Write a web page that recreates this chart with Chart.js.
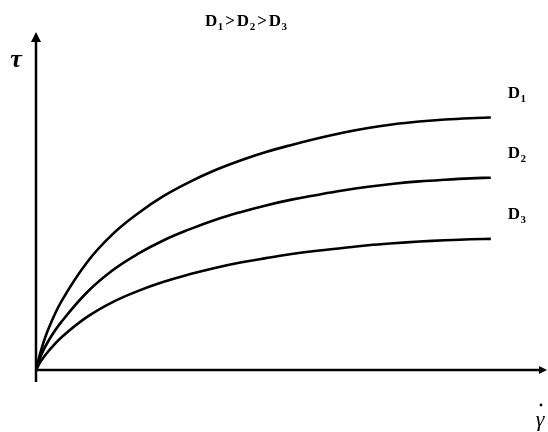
<!DOCTYPE html>
<html>
<head>
<meta charset="utf-8">
<script src="https://cdn.jsdelivr.net/npm/chart.js@4"></script>
<style>
  html, body { margin:0; padding:0; background:#fff; }
  canvas { display:block; }
</style>
</head>
<body>
<canvas id="flowChart" width="548" height="432"></canvas>
<script>
// shear rate (arbitrary units) and shear stress for three values of D
const shearRate = [0, 1, 2.5, 5, 10, 15, 20, 25, 30, 35, 40, 45, 50, 55, 60, 65, 70, 75, 80, 85, 89];
const stressD1 = [0, 5.9, 12.4, 20.4, 31.9, 40.2, 46.4, 51.5, 55.6, 59.1, 62.0, 64.5, 66.6, 68.5, 70.2, 71.6, 72.7, 73.5, 74.1, 74.5, 74.7];
const stressD2 = [0, 4.4, 8.8, 14.3, 23.0, 29.5, 34.4, 38.4, 41.6, 44.4, 46.7, 48.7, 50.4, 51.8, 53.1, 54.2, 55.1, 55.8, 56.3, 56.7, 56.9];
const stressD3 = [0, 2.7, 5.7, 9.7, 15.7, 20.1, 23.4, 26.1, 28.3, 30.2, 31.8, 33.1, 34.3, 35.3, 36.1, 36.9, 37.5, 38.0, 38.4, 38.7, 38.8];
const curveNames = ['1', '2', '3'];

const SERIF = '"Liberation Serif", "Times New Roman", serif';

function toPoints(ys){
  return shearRate.map((x, i) => ({x: x, y: ys[i]}));
}

// draws "D" followed by a subscript digit, returns the end x
function drawD(ctx, x, y, sub){
  ctx.font = 'bold 17px ' + SERIF;
  ctx.fillText('D', x, y);
  x += ctx.measureText('D').width + 0.5;
  ctx.font = 'bold 11px ' + SERIF;
  ctx.fillText(sub, x, y + 4);
  return x + ctx.measureText(sub).width;
}

function widthD(ctx, sub){
  ctx.font = 'bold 17px ' + SERIF;
  let w = ctx.measureText('D').width + 0.5;
  ctx.font = 'bold 11px ' + SERIF;
  return w + ctx.measureText(sub).width;
}

const sketchAxes = {
  id: 'sketchAxes',
  beforeDatasetsDraw(chart){
    const ctx = chart.ctx;
    const xs = chart.scales.x, ys = chart.scales.y;
    const x0 = xs.getPixelForValue(0);
    const y0 = ys.getPixelForValue(0);
    const top = chart.chartArea.top;
    const right = chart.chartArea.right;
    ctx.save();
    ctx.strokeStyle = '#000';
    ctx.fillStyle = '#000';
    ctx.lineWidth = 2.5;
    // vertical axis, a little past the origin
    ctx.beginPath();
    ctx.moveTo(x0, y0 + 12);
    ctx.lineTo(x0, top + 6);
    ctx.stroke();
    ctx.beginPath();
    ctx.moveTo(x0, top);
    ctx.lineTo(x0 - 5, top + 10);
    ctx.lineTo(x0 + 5, top + 10);
    ctx.closePath();
    ctx.fill();
    // horizontal axis
    ctx.beginPath();
    ctx.moveTo(x0, y0);
    ctx.lineTo(right - 5, y0);
    ctx.stroke();
    ctx.beginPath();
    ctx.moveTo(right, y0);
    ctx.lineTo(right - 8, y0 - 4);
    ctx.lineTo(right - 8, y0 + 4);
    ctx.closePath();
    ctx.fill();
    ctx.restore();
  },
  afterDraw(chart){
    const ctx = chart.ctx;
    ctx.save();
    ctx.fillStyle = '#000';
    ctx.textBaseline = 'alphabetic';

    // axis symbols
    ctx.textAlign = 'center';
    ctx.font = 'bold italic 26px ' + SERIF;
    ctx.fillText('\u03C4', 16, 67);
    ctx.font = 'italic 22px ' + SERIF;
    ctx.fillText('\u03B3', 540, 426);
    ctx.beginPath();
    ctx.arc(541, 405, 1.4, 0, Math.PI * 2);
    ctx.fill();

    // ordering note on top
    ctx.textAlign = 'left';
    const gt = ctx => { ctx.font = 'bold 17px ' + SERIF; return ctx.measureText('>').width; };
    const gap = 2;
    let total = widthD(ctx, '1') + widthD(ctx, '2') + widthD(ctx, '3') + 2 * gt(ctx) + 4 * gap;
    let x = 246 - total / 2;
    const yTitle = 26;
    x = drawD(ctx, x, yTitle, '1') + gap;
    ctx.font = 'bold 17px ' + SERIF;
    ctx.fillText('>', x, yTitle);
    x += gt(ctx) + gap;
    x = drawD(ctx, x, yTitle, '2') + gap;
    ctx.font = 'bold 17px ' + SERIF;
    ctx.fillText('>', x, yTitle);
    x += gt(ctx) + gap;
    drawD(ctx, x, yTitle, '3');

    // curve names next to the end of each line
    chart.data.datasets.forEach((ds, i) => {
      const pts = chart.getDatasetMeta(i).data;
      const last = pts[pts.length - 1];
      drawD(ctx, last.x + 17, last.y - 20, curveNames[i]);
    });
    ctx.restore();
  }
};

const lineStyle = {
  borderColor: '#000',
  borderWidth: 2.6,
  pointRadius: 0,
  fill: false,
  tension: 0.4
};

new Chart(document.getElementById('flowChart'), {
  type: 'line',
  data: {
    datasets: [
      Object.assign({label: 'D1', data: toPoints(stressD1)}, lineStyle),
      Object.assign({label: 'D2', data: toPoints(stressD2)}, lineStyle),
      Object.assign({label: 'D3', data: toPoints(stressD3)}, lineStyle)
    ]
  },
  options: {
    responsive: false,
    animation: false,
    layout: { padding: {left: 36, right: 1, top: 32, bottom: 62} },
    plugins: { legend: {display: false}, tooltip: {enabled: false} },
    scales: {
      x: { type: 'linear', min: 0, max: 100, display: false },
      y: { min: 0, max: 100, display: false }
    }
  },
  plugins: [sketchAxes]
});
</script>
</body>
</html>
